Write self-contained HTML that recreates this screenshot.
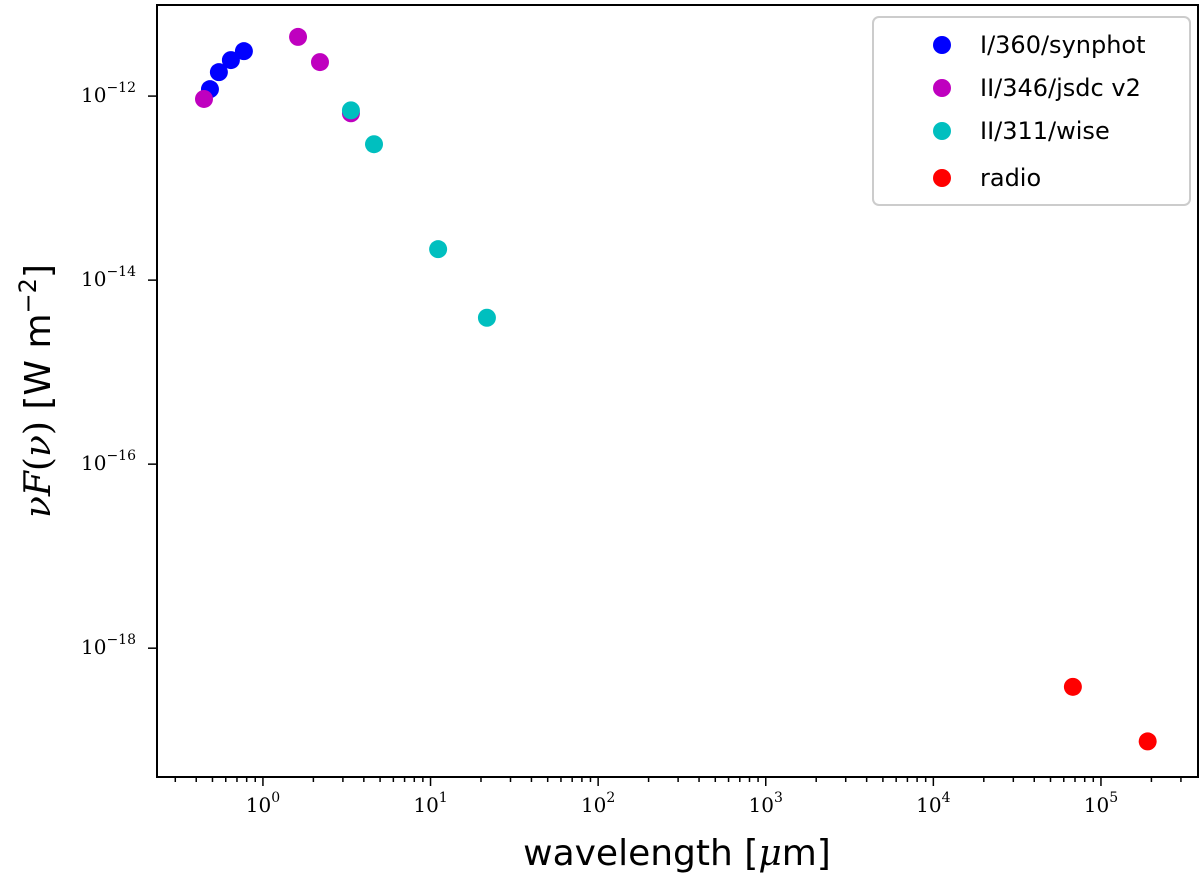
<!DOCTYPE html>
<html><head><meta charset="utf-8"><style>
body{margin:0;background:#fff;}
svg{display:block;font-family:"DejaVu Serif","Liberation Serif",serif;}
</style></head><body>
<svg id="chart" width="1200" height="882">
<rect x="157" y="5" width="1041" height="772" fill="none" stroke="#000" stroke-width="2"/>
<g id="axes"></g>
<g id="marks"></g>
<text x="677" y="865" font-size="36" text-anchor="middle" font-family="DejaVu Sans, sans-serif">wavelength [<tspan font-style="italic" font-family="DejaVu Serif, serif">μ</tspan>m]</text>
<text transform="translate(50,391) rotate(-90)" font-size="36" text-anchor="middle"><tspan font-style="italic">νF</tspan>(<tspan font-style="italic">ν</tspan>) <tspan font-family="DejaVu Sans, sans-serif">[W m</tspan><tspan font-family="DejaVu Sans, sans-serif" font-size="24" dy="-14">−2</tspan><tspan font-family="DejaVu Sans, sans-serif" dy="14">]</tspan></text>
<g>
<rect x="873" y="17" width="317" height="188" rx="6" fill="#fff" stroke="#ccc" stroke-width="2"/>
<g id="legend" font-family="DejaVu Sans, sans-serif" font-size="24"></g>
</g>
</svg>
<script>
const seriesNames=["I/360/synphot","II/346/jsdc v2","II/311/wise","radio"];
const seriesColors=["#0000ff","#bf00bf","#00bfbf","#ff0000"];
const synphotX=[0.483,0.546,0.644,0.77];
const synphotY=[1.19e-12,1.82e-12,2.46e-12,3.08e-12];
const jsdcX=[0.445,1.62,2.19,3.35];
const jsdcY=[0.93e-12,4.4e-12,2.34e-12,0.65e-12];
const wiseX=[3.35,4.6,11.1,21.7];
const wiseY=[0.70e-12,0.30e-12,2.17e-14,3.9e-15];
const radioX=[6.8e4,1.9e5];
const radioY=[3.8e-19,0.97e-19];
const xTickExps=[0,1,2,3,4,5];
const yTickExps=[-12,-14,-16,-18];
const NS="http://www.w3.org/2000/svg";
const X0=157,X1=1198,Y0=5,Y1=777;
const xMin=-0.632,xMax=5.579,yMin=-19.40,yMax=-11.01;
function sx(v){return X0+(Math.log10(v)-xMin)/(xMax-xMin)*(X1-X0);}
function sy(v){return Y1-(Math.log10(v)-yMin)/(yMax-yMin)*(Y1-Y0);}
function mk(tag,attrs,parent){const e=document.createElementNS(NS,tag);for(const k in attrs)e.setAttribute(k,attrs[k]);parent.appendChild(e);return e;}
const axes=document.getElementById('axes');
for(let d=-1;d<=5;d++){for(let m=1;m<10;m++){const v=m*Math.pow(10,d);const lv=Math.log10(v);if(lv<xMin||lv>xMax)continue;const x=sx(v);const major=m===1;
const t=mk('line',{x1:x,x2:x,y1:Y1,y2:Y1+(major?9:5),stroke:'#000','stroke-width':1.5},axes);

}}
xTickExps.forEach(e=>{const x=sx(Math.pow(10,e));const t=mk('text',{x:x,y:812,'font-size':20,'text-anchor':'middle'},axes);


t.innerHTML='10<tspan font-size="14" dy="-10">'+e+'</tspan>';});
yTickExps.forEach(e=>{const y=sy(Math.pow(10,e));const l=mk('line',{x1:X0,x2:X0-9,y1:y,y2:y,stroke:'#000','stroke-width':1.5},axes);


const t=mk('text',{x:136,y:y+6,'font-size':20,'text-anchor':'end'},axes);


t.innerHTML='10<tspan font-size="14" dy="-10">−'+Math.abs(e)+'</tspan>';});
const marks=document.getElementById('marks');
const sets=[[synphotX,synphotY],[jsdcX,jsdcY],[wiseX,wiseY],[radioX,radioY]];
sets.forEach((s,i)=>{s[0].forEach((xv,j)=>{const c=mk('circle',{cx:sx(xv),cy:sy(s[1][j]),r:9,fill:seriesColors[i]},marks);

});});
const lg=document.getElementById('legend');
const ly=[45,88,131,178];
seriesNames.forEach((n,i)=>{const c=mk('circle',{cx:942,cy:ly[i],r:9,fill:seriesColors[i]},lg);


const t=mk('text',{x:980,y:ly[i]+8},lg);t.textContent=n;

});
</script>
</body></html>
